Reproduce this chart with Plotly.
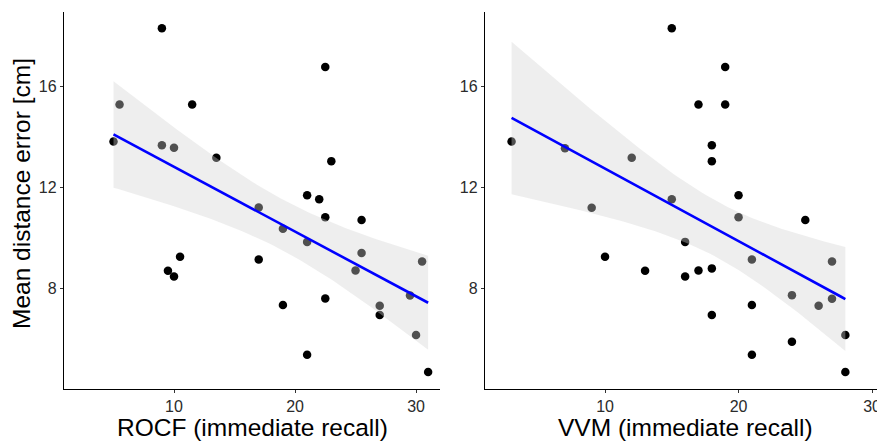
import numpy as np
import plotly.graph_objects as go

# ---- data ----
rocf_x = [9, 5.5, 11.5, 5, 9, 10, 13.5, 22.5, 23, 21, 22, 10.5, 9.5, 10, 17, 17,
          22.5, 25.5, 19, 21, 25.5, 30.5, 25, 22.5, 19, 27, 27, 29.5, 30, 21, 31]
rocf_y = [18.3, 15.27, 15.27, 13.81, 13.66, 13.56, 13.16, 16.76, 13.03, 11.68, 11.52,
          9.24, 8.69, 8.46, 9.13, 11.19, 10.81, 10.7, 10.35, 9.83, 9.39, 9.05, 8.7,
          7.59, 7.33, 7.3, 6.93, 7.71, 6.14, 5.36, 4.67]

vvm_x = [15, 3, 7, 12, 15, 19, 17, 19, 18, 18, 20, 9, 16, 10, 13, 16, 20, 25, 21,
         27, 17, 18, 24, 26, 27, 18, 21, 28, 24, 21, 28]
vvm_y = [18.3, 13.81, 13.54, 13.16, 11.52, 16.76, 15.27, 15.27, 13.66, 13.03, 11.68,
         11.18, 9.83, 9.24, 8.69, 8.46, 10.81, 10.7, 9.13, 9.05, 8.7, 8.78, 7.72, 7.3,
         7.58, 6.93, 7.33, 6.14, 5.87, 5.36, 4.67]

x_tick_vals = [10, 20, 30]
y_tick_vals = [8, 12, 16]
x_titles = ["ROCF (immediate recall)", "VVM (immediate recall)"]
y_title = "Mean distance error [cm]"
T_975 = 2.045  # t quantile for 95% CI, df = n-2

FONT = "Liberation Sans, Arial, sans-serif"


def fit_ci(x, y, n_grid=80):
    x = np.asarray(x, float)
    y = np.asarray(y, float)
    n = len(x)
    b, a = np.polyfit(x, y, 1)
    res = y - (a + b * x)
    s = np.sqrt(np.sum(res ** 2) / (n - 2))
    xm = x.mean()
    sxx = np.sum((x - xm) ** 2)
    g = np.linspace(x.min(), x.max(), n_grid)
    yh = a + b * g
    se = s * np.sqrt(1.0 / n + (g - xm) ** 2 / sxx)
    return g, yh, yh - T_975 * se, yh + T_975 * se


fig = go.Figure()

panels = [(rocf_x, rocf_y, "x", "y"), (vvm_x, vvm_y, "x2", "y2")]
for px, py, xa, ya in panels:
    fig.add_trace(go.Scatter(x=px, y=py, mode="markers", xaxis=xa, yaxis=ya,
                             marker=dict(color="black", size=8.5),
                             showlegend=False, hoverinfo="skip"))
    g, yh, lo, hi = fit_ci(px, py)
    fig.add_trace(go.Scatter(x=np.concatenate([g, g[::-1]]),
                             y=np.concatenate([hi, lo[::-1]]),
                             mode="lines", fill="toself", xaxis=xa, yaxis=ya,
                             fillcolor="rgba(210,210,210,0.38)",
                             line=dict(width=0), showlegend=False, hoverinfo="skip"))
    fig.add_trace(go.Scatter(x=g, y=yh, mode="lines", xaxis=xa, yaxis=ya,
                             line=dict(color="#0000FF", width=2.6),
                             showlegend=False, hoverinfo="skip"))

# page body has an 8px margin, so the figure is drawn at (8, 8)
OFF = 8
W, H = 885 - OFF, 442 - OFF


def px_x(p):
    return (p - OFF) / W


def px_y(p):
    return (H - (p - OFF)) / H


ydom = [px_y(389), px_y(12)]

axis_common = dict(showgrid=False, zeroline=False, showline=True, linecolor="black",
                   linewidth=1.3, ticks="outside", ticklen=3, tickwidth=1,
                   tickcolor="#333", automargin=False,
                   tickfont=dict(family=FONT, size=16, color="#2b2b2b"))

fig.update_layout(
    width=W, height=H, margin=dict(l=0, r=0, t=0, b=0),
    plot_bgcolor="white", paper_bgcolor="white",
    xaxis=dict(domain=[px_x(64), px_x(440)], range=[0.91, 31.98], tickvals=x_tick_vals,
               anchor="y", **axis_common),
    yaxis=dict(domain=ydom, range=[4.0, 18.94], tickvals=y_tick_vals, anchor="x",
               **axis_common),
    xaxis2=dict(domain=[px_x(485), px_x(885)], range=[1.01, 30.97], tickvals=x_tick_vals,
                anchor="y2", **axis_common),
    yaxis2=dict(domain=ydom, range=[4.0, 18.94], tickvals=y_tick_vals, anchor="x2",
                **axis_common),
)

title_font = dict(family=FONT, size=24.5, color="black")
for txt, cx in [(x_titles[0], (64 + 440) / 2), (x_titles[1], (485 + 885) / 2)]:
    fig.add_annotation(text=txt, xref="paper", yref="paper", x=px_x(cx), y=px_y(427),
                       xanchor="center", yanchor="middle", showarrow=False,
                       font=title_font)
fig.add_annotation(text=y_title, xref="paper", yref="paper", x=px_x(21), y=px_y(194),
                   xanchor="center", yanchor="middle", textangle=-90, showarrow=False,
                   font=title_font)

fig.write_html("out.html")
